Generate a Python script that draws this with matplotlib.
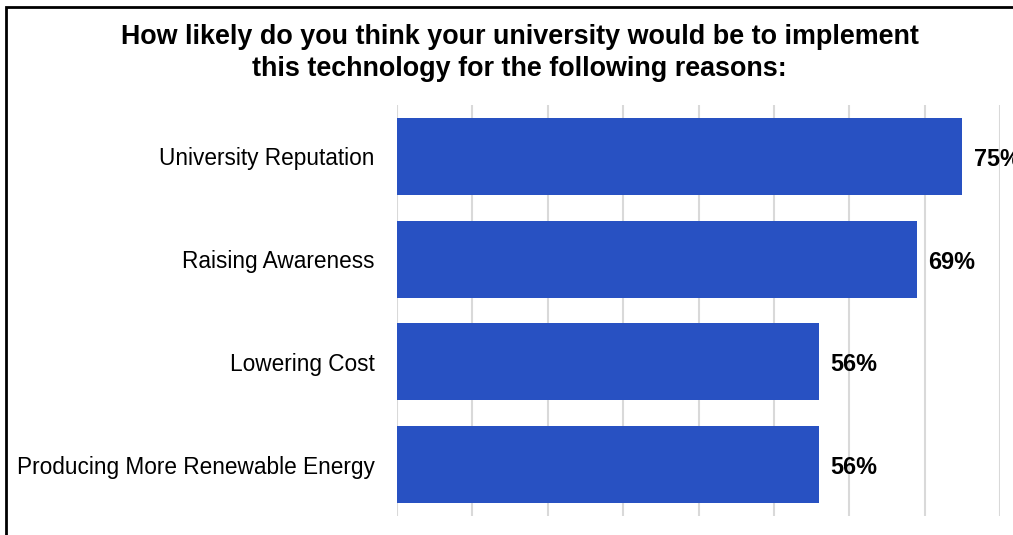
import matplotlib.pyplot as plt
from matplotlib.patches import Rectangle

plt.rcParams['font.family'] = ['Liberation Sans', 'DejaVu Sans']

# Share of respondents per reason
reasons = ['University Reputation', 'Raising Awareness', 'Lowering Cost',
           'Producing More Renewable Energy']
pct = [75, 69, 56, 56]

fig = plt.figure(figsize=(10.13, 5.35), dpi=100)
ax = fig.add_axes([0.3919, 0.0355, 0.5953, 0.7682])

y = range(len(reasons))
ax.barh(y, pct, height=0.75, color='#2851c2', zorder=3)
for yi, v in zip(y, pct):
    ax.text(v + 1.5, yi + 0.03, f'{v}%', va='center', ha='left', fontsize=16.8,
            fontweight='bold', clip_on=False)

ax.set_xlim(0, 80)
ax.set_ylim(len(reasons) - 0.5, -0.5)
ax.set_xticks(range(0, 81, 10))
ax.set_xticklabels([])
ax.set_yticks(list(y))
ax.set_yticklabels(reasons, fontsize=16.3)
ax.tick_params(axis='both', length=0, pad=16)
ax.grid(axis='x', color='#d9d9d9', linewidth=1.5, zorder=0)
for s in ax.spines.values():
    s.set_visible(False)

fig.text(0.513, 0.9, 'How likely do you think your university would be to implement\n'
         'this technology for the following reasons:', ha='center', va='center',
         fontsize=19.4, fontweight='bold', linespacing=1.3)

# frame around the figure
fig.patches.append(Rectangle((6 / 1013, -0.1), 1.2, (535 - 7) / 535 + 0.1,
                             transform=fig.transFigure, fill=False,
                             edgecolor='black', linewidth=2))

fig.savefig('out.png', dpi=100)
